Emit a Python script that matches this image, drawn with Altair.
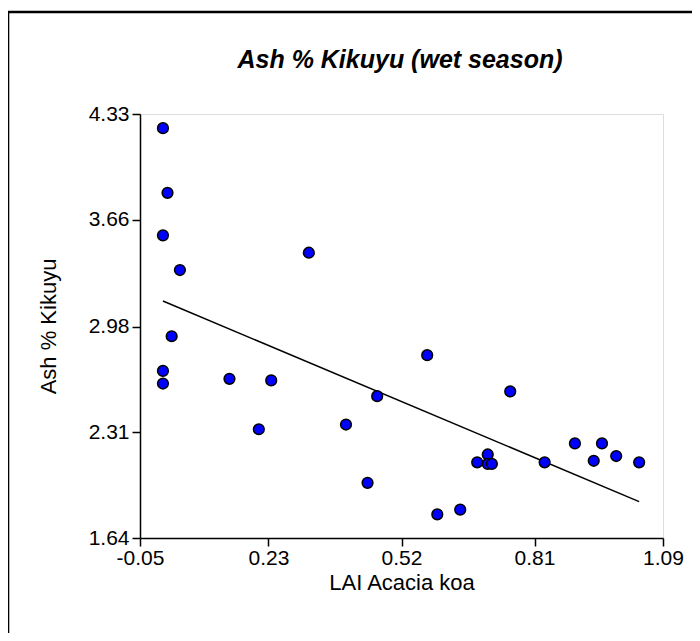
import altair as alt
import pandas as pd

# LAI Acacia koa (x) and Ash % Kikuyu (y)
lai = [0.000, 0.010, 0.000, 0.037, 0.318, 0.019, 0.000, 0.000, 0.145, 0.236,
       0.209, 0.399, 0.467, 0.576, 0.446, 0.598, 0.648, 0.685, 0.708, 0.708,
       0.717, 0.757, 0.832, 0.898, 0.957, 0.939, 0.988, 1.038]
ash = [4.24, 3.83, 3.56, 3.34, 3.45, 2.92, 2.70, 2.62, 2.65, 2.64,
       2.33, 2.36, 2.54, 2.80, 1.99, 1.79, 1.82, 2.12, 2.17, 2.11,
       2.11, 2.57, 2.12, 2.24, 2.24, 2.13, 2.16, 2.12]

x_ticks = [-0.05, 0.23, 0.52, 0.81, 1.09]
y_ticks = [1.64, 2.31, 2.98, 3.66, 4.33]
title_text = "Ash % Kikuyu (wet season)"

df = pd.DataFrame({"lai": lai, "ash": ash})

FONT = "Liberation Sans"
LBL = "replace(format(datum.value, '.2f'), '\u2212', '-')"

x_enc = alt.X("lai:Q", scale=alt.Scale(domain=[x_ticks[0], x_ticks[-1]], nice=False, zero=False),
              axis=alt.Axis(values=x_ticks, labelExpr=LBL, title="LAI Acacia koa", grid=False,
                            domainColor="black", domainWidth=1.5, tickColor="black", tickWidth=1.5,
                            tickSize=8, labelFont=FONT, labelFontSize=21, labelColor="black",
                            labelPadding=1, titleFont=FONT, titleFontSize=22, titleFontWeight="normal",
                            titleColor="black", titlePadding=4, labelFlush=False))
y_enc = alt.Y("ash:Q", scale=alt.Scale(domain=[y_ticks[0], y_ticks[-1]], nice=False, zero=False),
              axis=alt.Axis(values=y_ticks, labelExpr=LBL, title="Ash % Kikuyu", grid=False,
                            domainColor="black", domainWidth=1.5, tickColor="black", tickWidth=1.5,
                            tickSize=8, labelFont=FONT, labelFontSize=21, labelColor="black",
                            labelPadding=3, titleFont=FONT, titleFontSize=22, titleFontWeight="normal",
                            titleColor="black", titlePadding=28, labelFlush=False))

base = alt.Chart(df)

points = base.mark_circle(color="#0000ff", stroke="black", strokeWidth=1.5, size=115, opacity=1).encode(
    x=x_enc, y=y_enc)

fit = base.transform_regression("lai", "ash", method="linear").mark_line(
    color="black", strokeWidth=1.5).encode(x="lai:Q", y="ash:Q")

title = alt.Chart(alt.Data(values=[{"t": title_text}])).mark_text(
    font=FONT, fontSize=25, fontStyle="italic", fontWeight="bold", color="black",
    align="center", baseline="middle").encode(
    text="t:N", x=alt.value(260), y=alt.value(-54))

frame = alt.Chart(alt.Data(values=[{"f": 1}])).mark_rect(
    fill=None, stroke="black", strokeWidth=2.6).encode(
    x=alt.value(-132), x2=alt.value(720), y=alt.value(-102), y2=alt.value(720))

chart = alt.layer(fit, points, title, frame).properties(
    width=523, height=424,
    autosize=alt.AutoSizeParams(type="none"),
    padding={"left": 132, "top": 106, "right": 29, "bottom": 95},
).configure_view(stroke=None).configure(background="white")

chart.save("out.html", embed_options={"renderer": "svg", "actions": False})
